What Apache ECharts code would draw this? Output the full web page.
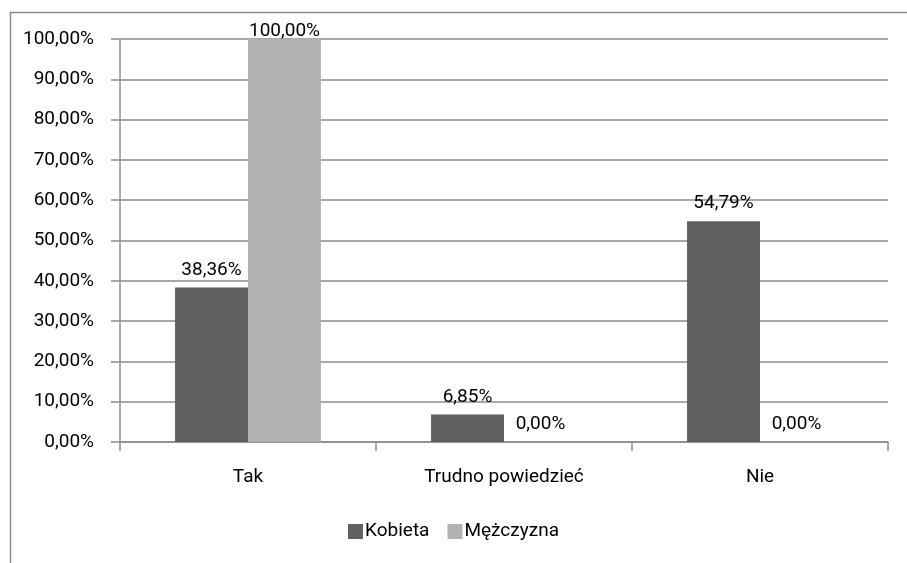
<!DOCTYPE html>
<html>
<head>
<meta charset="utf-8">
<script src="https://cdn.jsdelivr.net/npm/echarts@6/dist/echarts.min.js"></script>
<style>
html,body{margin:0;padding:0;background:#fff;}
#chart{width:907px;height:563px;}
</style>
</head>
<body>
<div id="chart"></div>
<script>
var categories = ['Tak', 'Trudno powiedzieć', 'Nie'];
var seriesNames = ['Kobieta', 'Mężczyzna'];
var kobieta = [38.36, 6.85, 54.79];
var mezczyzna = [100.00, 0.00, 0.00];
var yTicks = [0, 10, 20, 30, 40, 50, 60, 70, 80, 90, 100];

var FONT = 'Roboto, "Liberation Sans Narrow", sans-serif';
var FS = 19;
function pct(v){ return v.toFixed(2).replace('.', ',') + '%'; }

function makeData(arr){
  return arr.map(function(v){
    return v >= 100 ? {value: v, label: {distance: -2}} : v;
  });
}

var chart = echarts.init(document.getElementById('chart'), null, {renderer: 'canvas'});
chart.setOption({
  animation: false,
  textStyle: {fontFamily: FONT},
  graphic: [{
    type: 'rect',
    shape: {x: 10.5, y: 12.5, width: 1000, height: 1000},
    style: {fill: 'none', stroke: '#8c8c8c', lineWidth: 1.5},
    silent: true,
    z: -1
  }],
  grid: {left: 120, right: 19, top: 39, bottom: 121, containLabel: false},
  legend: {
    bottom: 17,
    left: 'center',
    itemWidth: 15,
    itemHeight: 15,
    itemGap: 18,
    icon: 'rect',
    textStyle: {fontFamily: FONT, fontSize: FS, color: '#000', padding: [0, 0, 0, -3]},
    data: seriesNames
  },
  xAxis: {
    type: 'category',
    data: categories,
    axisLine: {lineStyle: {color: '#8c8c8c', width: 1.5}},
    axisTick: {show: true, length: 9, alignWithLabel: false, lineStyle: {color: '#8c8c8c', width: 1.5}},
    axisLabel: {fontFamily: FONT, fontSize: FS, color: '#000', margin: 26}
  },
  yAxis: {
    type: 'value',
    min: yTicks[0],
    max: yTicks[yTicks.length - 1],
    interval: 10,
    axisLine: {show: true, lineStyle: {color: '#8c8c8c', width: 1.5}},
    axisTick: {show: true, length: 9, lineStyle: {color: '#8c8c8c', width: 1.5}},
    splitLine: {lineStyle: {color: '#8c8c8c', width: 1.5}},
    axisLabel: {fontFamily: FONT, fontSize: FS, color: '#000', margin: 26,
      formatter: function(v){ return pct(v); }}
  },
  series: [
    {
      name: seriesNames[0], type: 'bar', data: makeData(kobieta),
      barGap: '0%', barCategoryGap: '43%',
      itemStyle: {color: '#606060'},
      label: {show: true, position: 'top', distance: 8, fontFamily: FONT, fontSize: FS, color: '#000',
        formatter: function(p){ return pct(p.value); }}
    },
    {
      name: seriesNames[1], type: 'bar', data: makeData(mezczyzna),
      barGap: '0%', barCategoryGap: '43%',
      itemStyle: {color: '#b2b2b2'},
      label: {show: true, position: 'top', distance: 8, fontFamily: FONT, fontSize: FS, color: '#000',
        formatter: function(p){ return pct(p.value); }}
    }
  ]
});
</script>
</body>
</html>
